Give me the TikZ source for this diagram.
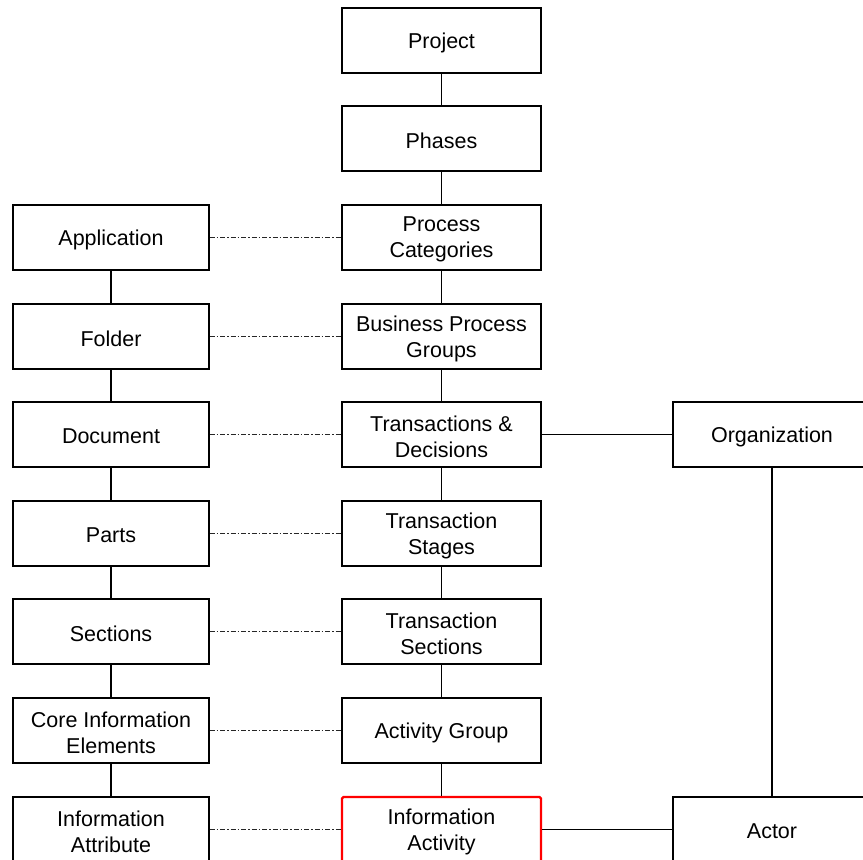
\documentclass[tikz,border=0pt]{standalone}
\usepackage{fontspec}
\setmainfont{Liberation Sans}
\begin{document}
\begin{tikzpicture}[x=1pt,y=-1pt,
  lab/.style={align=center, inner sep=0pt, yshift=-2pt, font=\fontsize{21.5}{26}\selectfont},
  box/.style={draw=black, line width=1.3pt, fill=white, minimum height=65pt, inner sep=0pt},
  lbox/.style={box, minimum width=196pt},
  cbox/.style={box, minimum width=199pt},
  rbox/.style={box, minimum width=198pt},
  redbox/.style={cbox, draw=red, line width=2.2pt, rounded corners=1.5pt},
  link/.style={draw=black, line width=1.3pt},
  dlink/.style={draw=black!85, line width=1.5pt, dash pattern=on 5pt off 2pt on 1.5pt off 2pt}]
\useasboundingbox (0,0) rectangle (863,860);
\clip (0,0) rectangle (863,860);
% center column
\node[cbox, label={[lab]center:Project}] (proj) at (441.5,40.5) {};
\node[cbox, label={[lab]center:Phases}] (phase) at (441.5,138.5) {};
\node[cbox, label={[lab]center:{Process\\Categories}}] (pc) at (441.5,237.5) {};
\node[cbox, label={[lab]center:{Business Process\\Groups}}] (bpg) at (441.5,336.5) {};
\node[cbox, label={[lab]center:{Transactions \&\\Decisions}}] (td) at (441.5,434.5) {};
\node[cbox, label={[lab]center:{Transaction\\Stages}}] (tst) at (441.5,533.5) {};
\node[cbox, label={[lab]center:{Transaction\\Sections}}] (tse) at (441.5,631.5) {};
\node[cbox, label={[lab]center:{Activity Group}}] (ag) at (441.5,730.5) {};
\node[redbox, label={[lab]center:{Information\\Activity}}] (ia) at (441.5,829.5) {};
% left column
\node[lbox, label={[lab]center:Application}] (app) at (111,237.5) {};
\node[lbox, label={[lab]center:Folder}] (fold) at (111,336.5) {};
\node[lbox, label={[lab]center:Document}] (doc) at (111,434.5) {};
\node[lbox, label={[lab]center:Parts}] (parts) at (111,533.5) {};
\node[lbox, label={[lab]center:Sections}] (sec) at (111,631.5) {};
\node[lbox, label={[lab]center:{Core Information\\Elements}}] (cie) at (111,730.5) {};
\node[lbox, label={[lab]center:{Information\\Attribute}}] (iat) at (111,829.5) {};
% right column
\node[rbox, label={[lab]center:Organization}] (org) at (772,434.5) {};
\node[rbox, label={[lab]center:Actor}] (actor) at (772,829.5) {};
% center links
\draw[link] (proj) -- (phase);
\draw[link] (phase) -- (pc);
\draw[link] (pc) -- (bpg);
\draw[link] (bpg) -- (td);
\draw[link] (td) -- (tst);
\draw[link] (tst) -- (tse);
\draw[link] (tse) -- (ag);
\draw[link] (ag) -- (ia);
% left links
\draw[link] (app) -- (fold);
\draw[link] (fold) -- (doc);
\draw[link] (doc) -- (parts);
\draw[link] (parts) -- (sec);
\draw[link] (sec) -- (cie);
\draw[link] (cie) -- (iat);
% dashed links
\draw[dlink] (app) -- (pc);
\draw[dlink] (fold) -- (bpg);
\draw[dlink] (doc) -- (td);
\draw[dlink] (parts) -- (tst);
\draw[dlink] (sec) -- (tse);
\draw[dlink] (cie) -- (ag);
\draw[dlink] (iat) -- (ia);
% right links
\draw[link] (td) -- (org);
\draw[link] (ia) -- (actor);
\draw[link] (org) -- (actor);
\end{tikzpicture}
\end{document}
